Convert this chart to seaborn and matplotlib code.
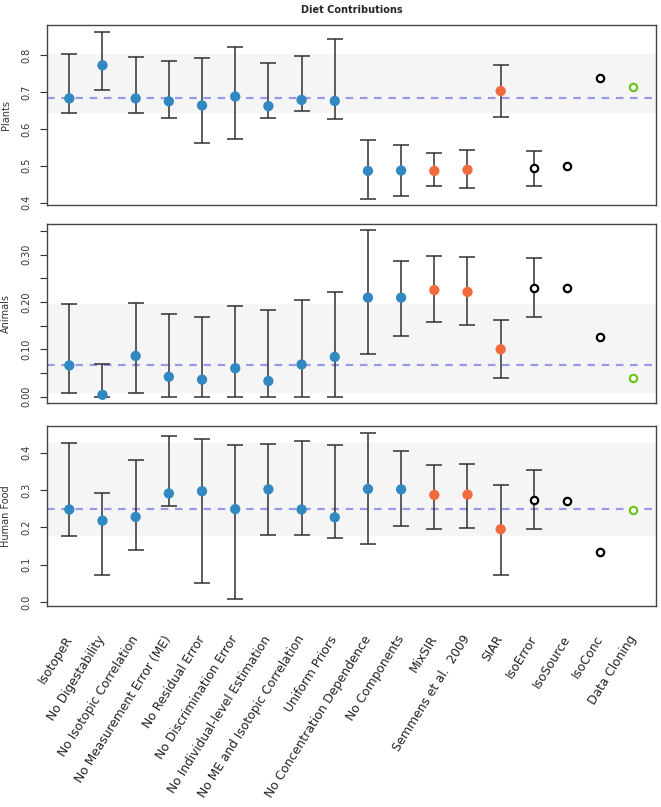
import numpy as np
import pandas as pd
import matplotlib
matplotlib.use("Agg")
import matplotlib.pyplot as plt
import seaborn as sns

categories = ["IsotopeR", "No Digestability", "No Isotopic Correlation",
              "No Measurement Error (ME)", "No Residual Error",
              "No Discrimination Error", "No Individual-level Estimation",
              "No ME and Isotopic Correlation", "Uniform Priors",
              "No Concentration Dependence", "No Components", "MixSIR",
              "Semmens et al.  2009", "SIAR", "IsoError", "IsoSource",
              "IsoConc", "Data Cloning"]
groups = ["IsotopeR"] * 11 + ["Bayes"] * 3 + ["Other"] * 3 + ["DC"]

plants_mid = [0.683, 0.773, 0.683, 0.675, 0.664, 0.688, 0.662, 0.679, 0.676,
              0.486, 0.487, 0.486, 0.489, 0.703, 0.494, 0.498, 0.739, 0.714]
plants_lo = [0.642, 0.705, 0.642, 0.631, 0.561, 0.574, 0.631, 0.650, 0.627,
             0.410, 0.418, 0.444, 0.439, 0.632, 0.446, None, None, None]
plants_hi = [0.804, 0.864, 0.795, 0.784, 0.794, 0.824, 0.778, 0.799, 0.844,
             0.570, 0.557, 0.535, 0.544, 0.773, 0.540, None, None, None]

animals_mid = [0.066, 0.004, 0.086, 0.042, 0.036, 0.060, 0.033, 0.068, 0.084,
               0.209, 0.209, 0.225, 0.221, 0.100, 0.230, 0.230, 0.125, 0.040]
animals_lo = [0.007, 0.000, 0.008, 0.000, 0.000, 0.000, 0.000, 0.000, 0.000,
              0.091, 0.129, 0.157, 0.152, 0.039, 0.168, None, None, None]
animals_hi = [0.195, 0.068, 0.197, 0.174, 0.168, 0.191, 0.182, 0.203, 0.220,
              0.351, 0.286, 0.297, 0.294, 0.162, 0.292, None, None, None]

human_mid = [0.248, 0.218, 0.228, 0.291, 0.297, 0.249, 0.302, 0.248, 0.227,
             0.303, 0.302, 0.287, 0.288, 0.195, 0.274, 0.271, 0.134, 0.246]
human_lo = [0.177, 0.072, 0.140, 0.256, 0.050, 0.007, 0.179, 0.180, 0.171,
            0.154, 0.204, 0.196, 0.199, 0.071, 0.195, None, None, None]
human_hi = [0.426, 0.293, 0.380, 0.444, 0.436, 0.421, 0.423, 0.431, 0.421,
            0.454, 0.406, 0.368, 0.371, 0.313, 0.354, None, None, None]

panels = [
    ("Plants", plants_mid, plants_lo, plants_hi, (0.394, 0.8825),
     [0.4, 0.5, 0.6, 0.7, 0.8], [0.4, 0.5, 0.6, 0.7, 0.8], "{:.1f}"),
    ("Animals", animals_mid, animals_lo, animals_hi, (-0.014, 0.365),
     [0.0, 0.05, 0.10, 0.15, 0.20, 0.25, 0.30, 0.35], [0.0, 0.10, 0.20, 0.30], "{:.2f}"),
    ("Human Food", human_mid, human_lo, human_hi, (-0.011, 0.472),
     [0.0, 0.1, 0.2, 0.3, 0.4], [0.0, 0.1, 0.2, 0.3, 0.4], "{:.1f}"),
]

sns.set_style("white")
plt.rcParams["font.family"] = ["DejaVu Sans"]

palette = {"IsotopeR": "#3288c0", "Bayes": "#f26b3f", "Other": "black", "DC": "#6cc51f"}

fig = plt.figure(figsize=(6.61, 8.07), dpi=100)
lefts = 0.0707
width = 0.9217
boxes = [(0.7463, 0.969), (0.5002, 0.7228), (0.2491, 0.4721)]

x = np.arange(len(categories))
for (name, mid, lo, hi, ylim, ticks, labticks, fmt), (b, t) in zip(panels, boxes):
    ax = fig.add_axes([lefts, b, width, t - b])
    df = pd.DataFrame({"x": x, "mid": mid, "lo": lo, "hi": hi, "group": groups})
    df["lo"] = pd.to_numeric(df["lo"])
    df["hi"] = pd.to_numeric(df["hi"])
    # reference band and line from IsotopeR full model
    ax.axhspan(df["lo"][0], df["hi"][0], color="#f5f5f5", zorder=0, lw=0)
    ax.axhline(df["mid"][0], color="#8f8fe8", lw=1.6, dashes=(3.4, 3.0), zorder=1, alpha=0.9)
    eb = df.dropna(subset=["lo", "hi"])
    ax.errorbar(eb["x"], eb["mid"], yerr=[eb["mid"] - eb["lo"], eb["hi"] - eb["mid"]],
                fmt="none", ecolor="#303030", elinewidth=1.1, capsize=5.5, capthick=1.1, zorder=2)
    filled = df[df["group"].isin(["IsotopeR", "Bayes"])]
    sns.scatterplot(data=filled, x="x", y="mid", hue="group", palette=palette,
                    s=55, edgecolor="none", legend=False, ax=ax, zorder=3)
    opened = df[df["group"].isin(["Other", "DC"])]
    for g, sub in opened.groupby("group"):
        ax.scatter(sub["x"], sub["mid"], s=28, facecolors="white",
                   edgecolors=palette[g], linewidths=1.6, zorder=3)
    ax.set_xlim(-0.68, 17.68)
    ax.set_ylim(*ylim)
    ax.set_yticks(ticks)
    ax.set_yticklabels([fmt.format(v) if any(abs(v - l) < 1e-9 for l in labticks) else "" for v in ticks],
                       rotation=90, va="center", fontsize=7, color="#333333")
    ax.tick_params(axis="y", length=5, width=0.8, color="#333333", pad=6, left=True)
    ax.set_ylabel(name, fontsize=7, color="#333333")
    ax.yaxis.set_label_coords(-0.058, 0.5)
    ax.set_xlabel("")
    ax.set_xticks(x)
    if name == "Human Food":
        ax.set_xticklabels(categories, rotation=58, ha="right", va="center",
                           rotation_mode="anchor", fontsize=8.8, color="#222222")
        ax.tick_params(axis="x", length=0, pad=22)
    else:
        ax.set_xticklabels([])
        ax.tick_params(axis="x", length=0)
    for sp in ax.spines.values():
        sp.set_color("#444444")
        sp.set_linewidth(1.0)
    if name == "Plants":
        ax.set_title("Diet Contributions", fontsize=7, fontweight="bold", pad=9)

fig.savefig("out.png", dpi=100)
